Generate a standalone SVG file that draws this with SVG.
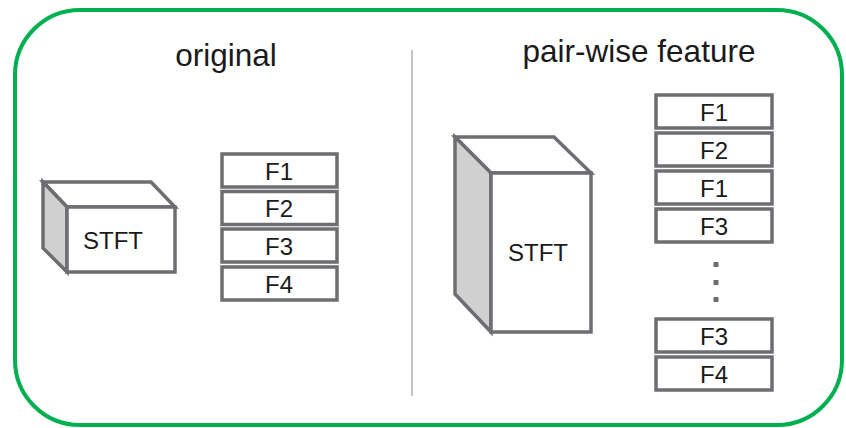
<svg xmlns="http://www.w3.org/2000/svg" width="846" height="428" viewBox="0 0 846 428">
<style>
.frame{fill:none;stroke:#00b050;stroke-width:4}
.box{fill:#ffffff;stroke:#6d6e71;stroke-width:3.5;stroke-linejoin:miter}
.side{fill:#d0d0d0;stroke:#6d6e71;stroke-width:3.5}
.t{font-family:"Liberation Sans",Arial,sans-serif;fill:#1a1a1a;text-anchor:middle}
.lbl{font-size:24px}
.title{font-size:31.5px}
.dot{fill:#6d6e71}
</style>
<rect class="frame" x="15" y="10" width="827" height="415" rx="65" ry="65"/>
<g id="divider"><line x1="412" y1="50" x2="412" y2="396" stroke="#b0b0b0" stroke-width="1.5"/></g>
<text class="t title" x="226" y="66">original</text>
<text class="t title" x="639" y="62">pair-wise feature</text>

<g id="stft-left">
<polygon class="box" points="43,182 151,182 175,207 67,207"/>
<polygon class="side" points="43,182 67,207 67,272 43,248"/>
<rect class="box" x="67" y="207" width="108" height="65"/>
<text class="t lbl" x="113" y="249">STFT</text>
</g>

<g id="left-f1"><rect class="box" x="222" y="154" width="115" height="33"/><text class="t lbl" x="279" y="180">F1</text></g>
<g id="left-f2"><rect class="box" x="222" y="191.5" width="115" height="33"/><text class="t lbl" x="279" y="217">F2</text></g>
<g id="left-f3"><rect class="box" x="222" y="229" width="115" height="33"/><text class="t lbl" x="279" y="255">F3</text></g>
<g id="left-f4"><rect class="box" x="222" y="267" width="115" height="33"/><text class="t lbl" x="279" y="293">F4</text></g>

<g id="stft-right">
<polygon class="box" points="455,137 554,137 591,173 491,173"/>
<polygon class="side" points="455,137 491,173 491,332 455,294"/>
<rect class="box" x="491" y="173" width="100" height="159"/>
<text class="t lbl" x="538" y="261">STFT</text>
</g>

<g id="right-f1a"><rect class="box" x="656" y="95" width="116" height="33"/><text class="t lbl" x="714" y="121">F1</text></g>
<g id="right-f2"><rect class="box" x="656" y="133" width="116" height="33"/><text class="t lbl" x="714" y="159">F2</text></g>
<g id="right-f1b"><rect class="box" x="656" y="171" width="116" height="33"/><text class="t lbl" x="714" y="197">F1</text></g>
<g id="right-f3a"><rect class="box" x="656" y="209" width="116" height="33"/><text class="t lbl" x="714" y="235">F3</text></g>
<g id="ellipsis">
<rect class="dot" x="713.5" y="262" width="5" height="5"/>
<rect class="dot" x="713.5" y="280" width="5" height="5"/>
<rect class="dot" x="713.5" y="297" width="5" height="5"/>
</g>
<g id="right-f3b"><rect class="box" x="656" y="319" width="116" height="33"/><text class="t lbl" x="714" y="345">F3</text></g>
<g id="right-f4"><rect class="box" x="656" y="357" width="116" height="33"/><text class="t lbl" x="714" y="383">F4</text></g>
</svg>
